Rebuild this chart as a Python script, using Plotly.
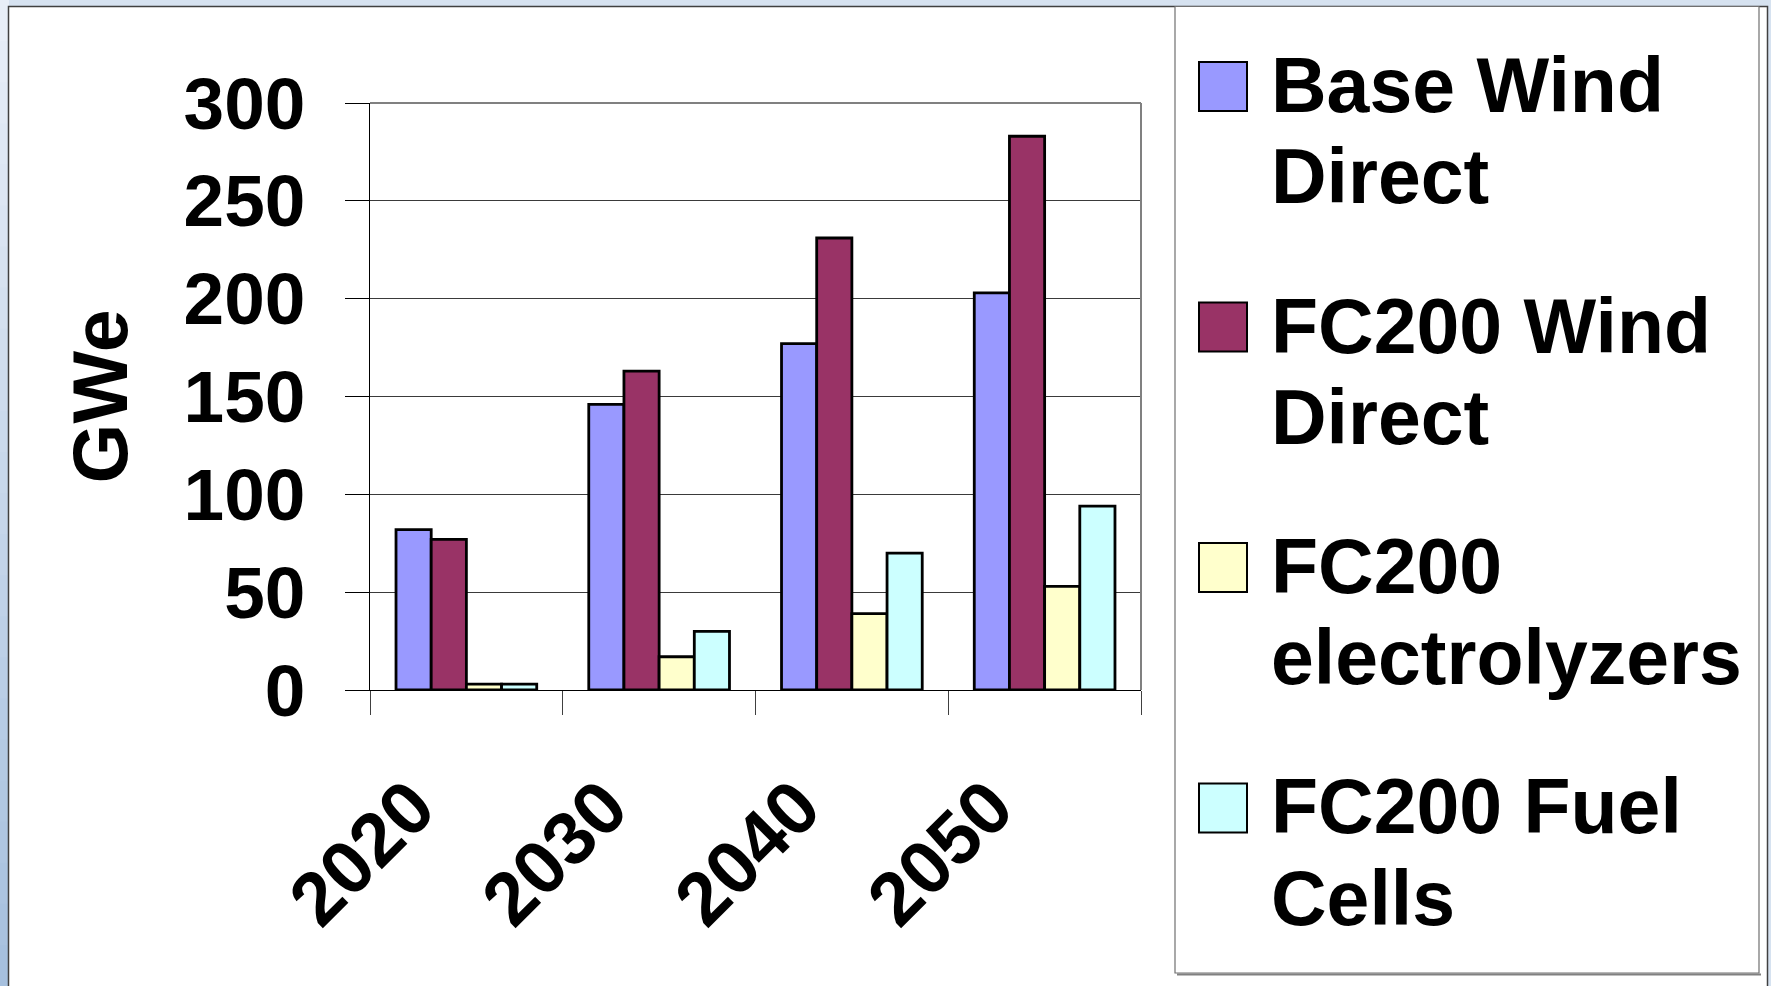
import plotly.graph_objects as go

# Installed capacity (GWe) by decade
years = ["2020", "2030", "2040", "2050"]
base_wind_direct = [82, 146, 177, 203]
fc200_wind_direct = [77, 163, 231, 283]
fc200_electrolyzers = [3, 17, 39, 53]
fc200_fuel_cells = [3, 30, 70, 94]

series_names = ["Base Wind Direct", "FC200 Wind Direct",
                "FC200 electrolyzers", "FC200 Fuel Cells"]
legend_lines = [("Base Wind", "Direct"), ("FC200 Wind", "Direct"),
                ("FC200", "electrolyzers"), ("FC200 Fuel", "Cells")]
series_values = [base_wind_direct, fc200_wind_direct,
                 fc200_electrolyzers, fc200_fuel_cells]
series_colors = ["#9999FF", "#993366", "#FFFFCC", "#CCFFFF"]

y_tick_values = [0, 50, 100, 150, 200, 250, 300]
y_title = "GWe"

W, H = 1771, 986
PL, PR, PT, PB = 370, 1141, 103, 690   # plot area in pixels
FONT = "Liberation Sans, Arial, Helvetica, sans-serif"


def px_x(px):
    return (px - PL) / (PR - PL)


def px_y(py):
    return (PB - py) / (PB - PT)


fig = go.Figure()
for name, vals, col in zip(series_names, series_values, series_colors):
    fig.add_trace(go.Bar(
        x=years, y=vals, name=name,
        marker=dict(color=col, line=dict(color="black", width=2.8)),
        showlegend=False,
    ))

shapes = []
# slide background strip on the left, shading from pale to mid blue
n_bands = 24
top_rgb, bot_rgb = (232, 238, 247), (166, 192, 222)
for k in range(n_bands):
    t = k / (n_bands - 1)
    rgb = tuple(round(a + (b - a) * t) for a, b in zip(top_rgb, bot_rgb))
    shapes.append(dict(type="rect", xref="paper", yref="paper", layer="below",
                       x0=px_x(0), x1=px_x(9),
                       y0=px_y(H * (k + 1) / n_bands + 1), y1=px_y(H * k / n_bands),
                       fillcolor="rgb(%d,%d,%d)" % rgb, line=dict(width=0)))
# chart frame
shapes.append(dict(type="rect", xref="paper", yref="paper", layer="below",
                   x0=px_x(8.5), x1=px_x(1767.5), y0=px_y(1000), y1=px_y(6.5),
                   fillcolor="white", line=dict(color="#404040", width=1.5)))
# plot area border (top and right)
shapes.append(dict(type="line", xref="paper", yref="paper", layer="above",
                   x0=0, x1=1, y0=1, y1=1, line=dict(color="#808080", width=2)))
shapes.append(dict(type="line", xref="paper", yref="paper", layer="above",
                   x0=1, x1=1, y0=0, y1=1, line=dict(color="#808080", width=2)))
# legend box with shadow
shapes.append(dict(type="line", xref="paper", yref="paper", layer="below",
                   x0=px_x(1177), x1=px_x(1761), y0=px_y(974.5), y1=px_y(974.5),
                   line=dict(color="#808080", width=2)))
shapes.append(dict(type="rect", xref="paper", yref="paper", layer="below",
                   x0=px_x(1175), x1=px_x(1759), y0=px_y(973), y1=px_y(6.5),
                   fillcolor="white", line=dict(color="#707070", width=1.2)))

annotations = []
entry_step = 240.5
for i, (lines, col) in enumerate(zip(legend_lines, series_colors)):
    top = 62 + entry_step * i
    shapes.append(dict(type="rect", xref="paper", yref="paper", layer="above",
                       x0=px_x(1199), x1=px_x(1247), y0=px_y(top + 49), y1=px_y(top),
                       fillcolor=col, line=dict(color="black", width=2)))
    for j, line in enumerate(lines):
        baseline = 112 + entry_step * i + 91 * j
        annotations.append(dict(
            text=line, xref="paper", yref="paper", showarrow=False,
            x=px_x(1269), y=px_y(baseline - 27), xanchor="left", yanchor="middle",
            font=dict(family=FONT, size=77, color="black", weight="bold"),
        ))

fig.update_layout(
    width=W, height=H, autosize=False,
    margin=dict(l=PL, r=W - PR, t=PT, b=H - PB, pad=0),
    paper_bgcolor="#d6e2f0", plot_bgcolor="white",
    barmode="group", bargap=0.27, bargroupgap=0,
    shapes=shapes, annotations=annotations,
    showlegend=False,
)

fig.update_xaxes(
    type="category", tickson="boundaries", ticks="outside", ticklen=24,
    tickcolor="#404040", tickwidth=1, showline=True, linecolor="black",
    linewidth=1, showgrid=False, tickangle=-45,
    tickfont=dict(family=FONT, size=75, color="black", weight="bold"),
    ticklabelshift=-54, ticklabelstandoff=42,
)
fig.update_yaxes(
    range=[0, 300], tickvals=y_tick_values, ticks="outside", ticklen=24,
    tickcolor="black", tickwidth=1, showline=True, linecolor="black",
    linewidth=1, showgrid=True, gridcolor="#3a3a3a", gridwidth=1,
    zeroline=False,
    tickfont=dict(family=FONT, size=73, color="black", weight="bold"),
    ticklabelstandoff=25,
    title=dict(text=y_title, standoff=30,
               font=dict(family=FONT, size=77, color="black", weight="bold")),
)

fig.write_html("out.html")
